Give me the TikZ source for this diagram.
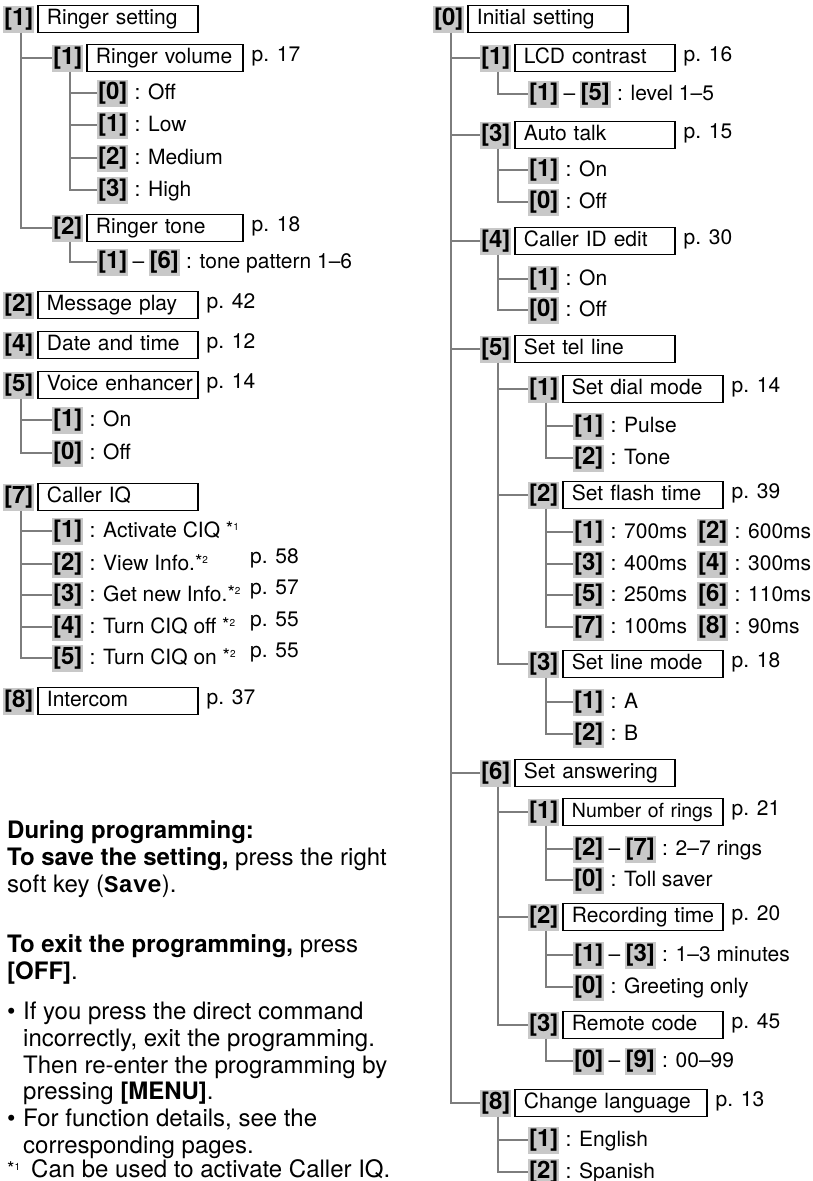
\documentclass[tikz,border=0pt]{standalone}
\usepackage{fontspec}
\setmainfont{TeX Gyre Heros}
\setmonofont{Liberation Mono}
\usetikzlibrary{positioning}
\definecolor{keygray}{RGB}{200,200,200}
\definecolor{linegray}{RGB}{125,125,125}
\newcommand{\treefont}{\fontsize{21}{25}\selectfont}
\newcommand{\keyfont}{\fontsize{24}{26}\selectfont\bfseries}
\newcommand{\bodyfont}{\fontsize{24}{27}\selectfont}
\newcommand{\starnote}[1]{\raisebox{2pt}{\fontsize{19}{19}\selectfont *}\raisebox{7pt}{\fontsize{10}{10}\selectfont#1}}

\begin{document}
\begin{tikzpicture}[x=1pt, y=-1pt,
    key/.style={fill=keygray, font=\keyfont, inner sep=0pt, minimum width=31pt,
        minimum height=27pt, text height=17pt, text depth=5pt, anchor=west},
    menu/.style={draw, line width=1.1pt, font=\treefont, text width=142pt,
        inner xsep=9pt, inner ysep=0pt, minimum height=27pt, text height=15pt,
        text depth=4pt, align=left, execute at begin node=\hbox\bgroup,
        execute at end node=\egroup},
    txt/.style={font=\treefont, inner sep=0pt},
    body/.style={font=\bodyfont, inner sep=0pt, anchor=base west},
    conn/.style={draw=linegray, line width=1.8pt}]
        \useasboundingbox (0,0) rectangle (813,1181);
        % Draw left tree
        \node[key] (rset) at (3,19) {[1]};
        \node[menu, right=3pt of rset] (rsetb) {Ringer setting};
        \node[key] (rvol) at (52,58) {[1]};
        \node[menu, text width=138pt, right=3pt of rvol] (rvolb) {Ringer volume};
        \node[txt, base right=8pt of rvolb, yshift=2pt] (rvolp) {p. 17};
        \node[key] (rvol0) at (97,93) {[0]};
        \node[txt, base right=6pt of rvol0] (rvol0t) {: Off};
        \node[key] (rvol1) at (97,125) {[1]};
        \node[txt, base right=6pt of rvol1] (rvol1t) {: Low};
        \node[key] (rvol2) at (97,158) {[2]};
        \node[txt, base right=6pt of rvol2] (rvol2t) {: Medium};
        \node[key] (rvol3) at (97,190) {[3]};
        \node[txt, base right=6pt of rvol3] (rvol3t) {: High};
        \node[key] (rtone) at (52,228) {[2]};
        \node[menu, text width=138pt, right=3pt of rtone] (rtoneb) {Ringer tone};
        \node[txt, base right=8pt of rtoneb, yshift=2pt] (rtonep) {p. 18};
        \node[key] (rtone1) at (97,262) {[1]};
        \node[txt, base right=4pt of rtone1] (rtoned) {--};
        \node[key, base right=4pt of rtoned] (rtone6) {[6]};
        \node[txt, base right=6pt of rtone6] (rtonet) {: tone pattern 1--6};

        \node[key] (mplay) at (3,305) {[2]};
        \node[menu, right=3pt of mplay] (mplayb) {Message play};
        \node[txt, base right=8pt of mplayb, yshift=2pt] (mplayp) {p. 42};
        \node[key] (dtime) at (3,345) {[4]};
        \node[menu, right=3pt of dtime] (dtimeb) {Date and time};
        \node[txt, base right=8pt of dtimeb, yshift=2pt] (dtimep) {p. 12};
        \node[key] (voice) at (3,385) {[5]};
        \node[menu, right=3pt of voice] (voiceb) {Voice enhancer};
        \node[txt, base right=8pt of voiceb, yshift=2pt] (voicep) {p. 14};
        \node[key] (voice1) at (52,420) {[1]};
        \node[txt, base right=6pt of voice1] (voice1t) {: On};
        \node[key] (voice0) at (52,453) {[0]};
        \node[txt, base right=6pt of voice0] (voice0t) {: Off};

        \node[key] (ciq) at (3,497) {[7]};
        \node[menu, right=3pt of ciq] (ciqb) {Caller IQ};
        \node[key] (ciq1) at (52,531) {[1]};
        \node[txt, base right=6pt of ciq1] (ciq1t) {: Activate CIQ \starnote{1}};
        \node[key] (ciq2) at (52,564) {[2]};
        \node[txt, base right=6pt of ciq2] (ciq2t) {: View Info.\starnote{2}};
        \node[txt, anchor=base west] (ciq2p) at (250,563) {p. 58};
        \node[key] (ciq3) at (52,595) {[3]};
        \node[txt, base right=6pt of ciq3] (ciq3t) {: Get new Info.\starnote{2}};
        \node[txt, anchor=base west] (ciq3p) at (250,594) {p. 57};
        \node[key] (ciq4) at (52,627) {[4]};
        \node[txt, base right=6pt of ciq4] (ciq4t) {: Turn CIQ off \starnote{2}};
        \node[txt, anchor=base west] (ciq4p) at (250,626) {p. 55};
        \node[key] (ciq5) at (52,658) {[5]};
        \node[txt, base right=6pt of ciq5] (ciq5t) {: Turn CIQ on \starnote{2}};
        \node[txt, anchor=base west] (ciq5p) at (250,657) {p. 55};

        \node[key] (icom) at (3,701) {[8]};
        \node[menu, right=3pt of icom] (icomb) {Intercom};
        \node[txt, base right=8pt of icomb, yshift=2pt] (icomp) {p. 37};

        % Draw right tree
        \node[key] (init) at (433,19) {[0]};
        \node[menu, right=3pt of init] (initb) {Initial setting};
        \node[key] (lcd) at (480,58) {[1]};
        \node[menu, right=3pt of lcd] (lcdb) {LCD contrast};
        \node[txt, base right=8pt of lcdb, yshift=2pt] (lcdp) {p. 16};
        \node[key] (lcd1) at (528,94) {[1]};
        \node[txt, base right=4pt of lcd1] (lcdd) {--};
        \node[key, base right=4pt of lcdd] (lcd5) {[5]};
        \node[txt, base right=6pt of lcd5] (lcdt) {: level 1--5};
        \node[key] (auto) at (480,135) {[3]};
        \node[menu, right=3pt of auto] (autob) {Auto talk};
        \node[txt, base right=8pt of autob, yshift=2pt] (autop) {p. 15};
        \node[key] (auto1) at (528,170) {[1]};
        \node[txt, base right=6pt of auto1] (auto1t) {: On};
        \node[key] (auto0) at (528,202) {[0]};
        \node[txt, base right=6pt of auto0] (auto0t) {: Off};
        \node[key] (cid) at (480,241) {[4]};
        \node[menu, right=3pt of cid] (cidb) {Caller ID edit};
        \node[txt, base right=8pt of cidb, yshift=2pt] (cidp) {p. 30};
        \node[key] (cid1) at (528,279) {[1]};
        \node[txt, base right=6pt of cid1] (cid1t) {: On};
        \node[key] (cid0) at (528,310) {[0]};
        \node[txt, base right=6pt of cid0] (cid0t) {: Off};

        \node[key] (tel) at (480,349) {[5]};
        \node[menu, right=3pt of tel] (telb) {Set tel line};
        \node[key] (dial) at (528,389) {[1]};
        \node[menu, right=3pt of dial] (dialb) {Set dial mode};
        \node[txt, base right=8pt of dialb, yshift=2pt] (dialp) {p. 14};
        \node[key] (dial1) at (573,426) {[1]};
        \node[txt, base right=6pt of dial1] (dial1t) {: Pulse};
        \node[key] (dial2) at (573,458) {[2]};
        \node[txt, base right=6pt of dial2] (dial2t) {: Tone};
        \node[key] (flash) at (528,495) {[2]};
        \node[menu, right=3pt of flash] (flashb) {Set flash time};
        \node[txt, base right=8pt of flashb, yshift=2pt] (flashp) {p. 39};
        \node[key] (flash1) at (573,532) {[1]};
        \node[txt, base right=6pt of flash1] (flash1t) {: 700ms};
        \node[key] (flash2) at (697,532) {[2]};
        \node[txt, base right=6pt of flash2] (flash2t) {: 600ms};
        \node[key] (flash3) at (573,564) {[3]};
        \node[txt, base right=6pt of flash3] (flash3t) {: 400ms};
        \node[key] (flash4) at (697,564) {[4]};
        \node[txt, base right=6pt of flash4] (flash4t) {: 300ms};
        \node[key] (flash5) at (573,595) {[5]};
        \node[txt, base right=6pt of flash5] (flash5t) {: 250ms};
        \node[key] (flash6) at (697,595) {[6]};
        \node[txt, base right=6pt of flash6] (flash6t) {: 110ms};
        \node[key] (flash7) at (573,627) {[7]};
        \node[txt, base right=6pt of flash7] (flash7t) {: 100ms};
        \node[key] (flash8) at (697,627) {[8]};
        \node[txt, base right=6pt of flash8] (flash8t) {: 90ms};
        \node[key] (lmode) at (528,664) {[3]};
        \node[menu, right=3pt of lmode] (lmodeb) {Set line mode};
        \node[txt, base right=8pt of lmodeb, yshift=2pt] (lmodep) {p. 18};
        \node[key] (lmode1) at (573,702) {[1]};
        \node[txt, base right=6pt of lmode1] (lmode1t) {: A};
        \node[key] (lmode2) at (573,734) {[2]};
        \node[txt, base right=6pt of lmode2] (lmode2t) {: B};

        \node[key] (ans) at (480,773) {[6]};
        \node[menu, right=3pt of ans] (ansb) {Set answering};
        \node[key] (rings) at (528,812) {[1]};
        \node[menu, font=\fontsize{19.5}{25}\selectfont, right=3pt of rings] (ringsb) {Number of rings};
        \node[txt, base right=8pt of ringsb, yshift=2pt] (ringsp) {p. 21};
        \node[key] (rings2) at (573,849) {[2]};
        \node[txt, base right=4pt of rings2] (ringsd) {--};
        \node[key, base right=4pt of ringsd] (rings7) {[7]};
        \node[txt, base right=6pt of rings7] (rings7t) {: 2--7 rings};
        \node[key] (rings0) at (573,880) {[0]};
        \node[txt, base right=6pt of rings0] (rings0t) {: Toll saver};
        \node[key] (rec) at (528,917) {[2]};
        \node[menu, right=3pt of rec] (recb) {Recording time};
        \node[txt, base right=8pt of recb, yshift=2pt] (recp) {p. 20};
        \node[key] (rec1) at (573,955) {[1]};
        \node[txt, base right=4pt of rec1] (recd) {--};
        \node[key, base right=4pt of recd] (rec3) {[3]};
        \node[txt, base right=6pt of rec3] (rec3t) {: 1--3 minutes};
        \node[key] (rec0) at (573,987) {[0]};
        \node[txt, base right=6pt of rec0] (rec0t) {: Greeting only};
        \node[key] (remote) at (528,1025) {[3]};
        \node[menu, right=3pt of remote] (remoteb) {Remote code};
        \node[txt, base right=8pt of remoteb, yshift=2pt] (remotep) {p. 45};
        \node[key] (remote0) at (573,1061) {[0]};
        \node[txt, base right=4pt of remote0] (remoted) {--};
        \node[key, base right=4pt of remoted] (remote9) {[9]};
        \node[txt, base right=6pt of remote9] (remote9t) {: 00--99};

        \node[key] (lang) at (480,1103) {[8]};
        \node[menu, text width=174pt, right=3pt of lang] (langb) {Change language};
        \node[txt, base right=8pt of langb, yshift=2pt] (langp) {p. 13};
        \node[key] (lang1) at (528,1140) {[1]};
        \node[txt, base right=6pt of lang1] (lang1t) {: English};
        \node[key] (lang2) at (528,1172) {[2]};
        \node[txt, base right=6pt of lang2] (lang2t) {: Spanish};

        % Draw connectors
        \draw[conn] ([xshift=2pt]rset.south) |- (rvol.west)
            ([xshift=2pt]rset.south) |- (rtone.west);
        \draw[conn] ([xshift=2pt]rvol.south) |- (rvol0.west)
            ([xshift=2pt]rvol.south) |- (rvol1.west)
            ([xshift=2pt]rvol.south) |- (rvol2.west)
            ([xshift=2pt]rvol.south) |- (rvol3.west);
        \draw[conn] ([xshift=2pt]rtone.south) |- (rtone1.west);
        \draw[conn] ([xshift=2pt]voice.south) |- (voice1.west)
            ([xshift=2pt]voice.south) |- (voice0.west);
        \draw[conn] ([xshift=2pt]ciq.south) |- (ciq1.west)
            ([xshift=2pt]ciq.south) |- (ciq2.west)
            ([xshift=2pt]ciq.south) |- (ciq3.west)
            ([xshift=2pt]ciq.south) |- (ciq4.west)
            ([xshift=2pt]ciq.south) |- (ciq5.west);
        \draw[conn] ([xshift=2pt]init.south) |- (lcd.west)
            ([xshift=2pt]init.south) |- (auto.west)
            ([xshift=2pt]init.south) |- (cid.west)
            ([xshift=2pt]init.south) |- (tel.west)
            ([xshift=2pt]init.south) |- (ans.west)
            ([xshift=2pt]init.south) |- (lang.west);
        \draw[conn] ([xshift=2pt]lcd.south) |- (lcd1.west);
        \draw[conn] ([xshift=2pt]auto.south) |- (auto1.west)
            ([xshift=2pt]auto.south) |- (auto0.west);
        \draw[conn] ([xshift=2pt]cid.south) |- (cid1.west)
            ([xshift=2pt]cid.south) |- (cid0.west);
        \draw[conn] ([xshift=2pt]tel.south) |- (dial.west)
            ([xshift=2pt]tel.south) |- (flash.west)
            ([xshift=2pt]tel.south) |- (lmode.west);
        \draw[conn] ([xshift=2pt]dial.south) |- (dial1.west)
            ([xshift=2pt]dial.south) |- (dial2.west);
        \draw[conn] ([xshift=2pt]flash.south) |- (flash1.west)
            ([xshift=2pt]flash.south) |- (flash3.west)
            ([xshift=2pt]flash.south) |- (flash5.west)
            ([xshift=2pt]flash.south) |- (flash7.west);
        \draw[conn] ([xshift=2pt]lmode.south) |- (lmode1.west)
            ([xshift=2pt]lmode.south) |- (lmode2.west);
        \draw[conn] ([xshift=2pt]ans.south) |- (rings.west)
            ([xshift=2pt]ans.south) |- (rec.west)
            ([xshift=2pt]ans.south) |- (remote.west);
        \draw[conn] ([xshift=2pt]rings.south) |- (rings2.west)
            ([xshift=2pt]rings.south) |- (rings0.west);
        \draw[conn] ([xshift=2pt]rec.south) |- (rec1.west)
            ([xshift=2pt]rec.south) |- (rec0.west);
        \draw[conn] ([xshift=2pt]remote.south) |- (remote0.west);
        \draw[conn] ([xshift=2pt]lang.south) |- (lang1.west)
            ([xshift=2pt]lang.south) |- (lang2.west);

        % Draw notes
        \node[body, font=\bodyfont\bfseries] (dur) at (7,838) {During programming:};
        \node[body] (save1) at (7,865) {\textbf{To save the setting,} press the right};
        \node[body] (save2) at (7,892) {soft key (\texttt{\textbf{Save}}).};
        \node[body] (exit1) at (7,952) {\textbf{To exit the programming,} press};
        \node[body] (exit2) at (7,979) {\textbf{[OFF]}.};
        \node[body] (tip1) at (7,1019) {\makebox[16pt][l]{\textbullet}If you press the direct command};
        \node[body] (tip2) at (23,1046) {incorrectly, exit the programming.};
        \node[body] (tip3) at (23,1073) {Then re-enter the programming by};
        \node[body] (tip4) at (23,1099) {pressing \textbf{[MENU]}.};
        \node[body] (tip5) at (7,1126) {\makebox[16pt][l]{\textbullet}For function details, see the};
        \node[body] (tip6) at (23,1153) {corresponding pages.};
        \node[body] (note) at (7,1177) {\makebox[24pt][l]{\starnote{1}}Can be used to activate Caller IQ.};
\end{tikzpicture}
\end{document}
